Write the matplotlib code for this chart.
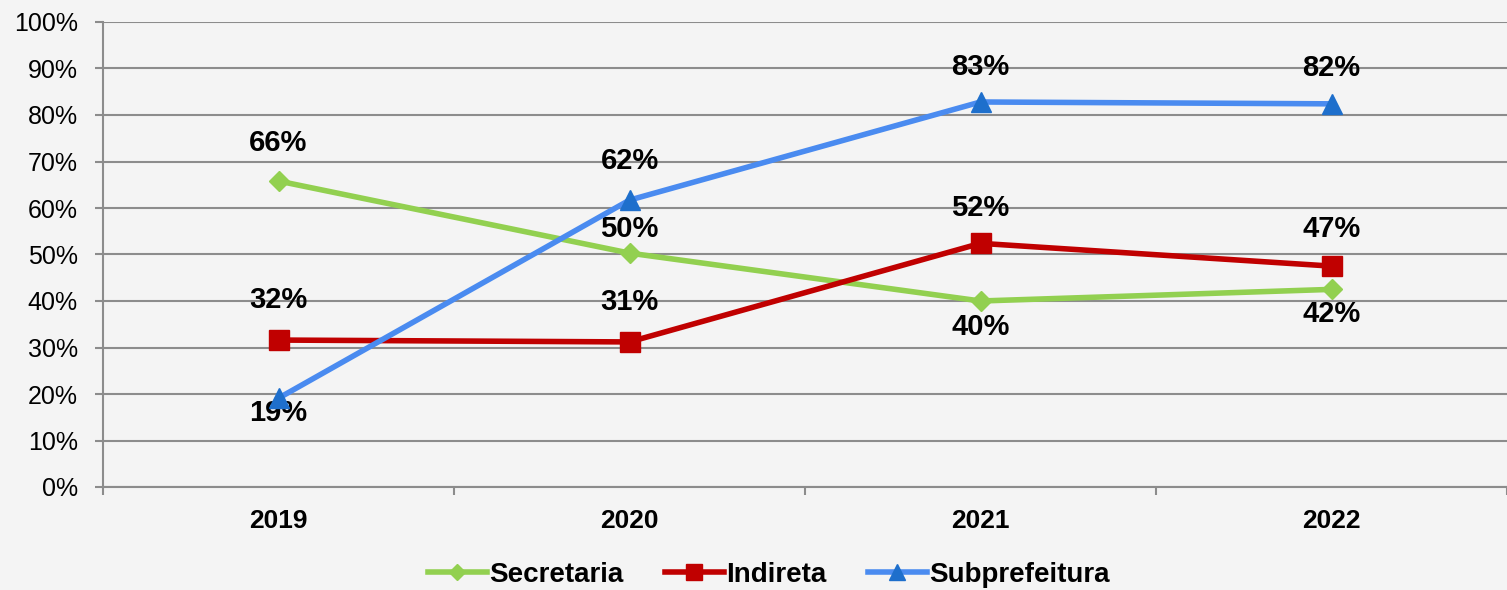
import matplotlib.pyplot as plt
from matplotlib.ticker import FixedLocator

plt.rcParams['font.family'] = ['Liberation Sans', 'DejaVu Sans']

anos = ["2019", "2020", "2021", "2022"]
secretaria = [65.8, 50.3, 40.0, 42.5]
indireta = [31.6, 31.2, 52.4, 47.5]
subprefeitura = [19.1, 61.7, 82.8, 82.4]

rotulos_sec = ["66%", "50%", "40%", "42%"]
rotulos_ind = ["32%", "31%", "52%", "47%"]
rotulos_sub = ["19%", "62%", "83%", "82%"]

# deslocamento vertical dos rótulos (em pixels)
desloc_sec = [38, 24, -26, -25]
desloc_ind = [40, 40, 35, 37]
desloc_sub = [-15, 39, 35, 36]

fig = plt.figure(figsize=(15.07, 5.9), dpi=100)
fig.patch.set_facecolor("#f4f4f4")
ax = fig.add_axes([103 / 1507, 1 - 487 / 590, 1 - 103 / 1507, (487 - 22) / 590])
ax.set_facecolor("#f4f4f4")

x = list(range(len(anos)))
series = [
    ("Secretaria", secretaria, rotulos_sec, desloc_sec, "#92D050", "#92D050", "D", 10),
    ("Indireta", indireta, rotulos_ind, desloc_ind, "#C00000", "#C00000", "s", 14),
    ("Subprefeitura", subprefeitura, rotulos_sub, desloc_sub, "#4A8BF0", "#1E6FCC", "^", 14),
]

for nome, valores, rotulos, desloc, cor, cor_marc, marc, tam in series:
    ax.plot(x, valores, color=cor, lw=4, marker=marc, markersize=tam,
            markerfacecolor=cor_marc, markeredgecolor=cor_marc, label=nome, zorder=3)
    for xi, v, r, d in zip(x, valores, rotulos, desloc):
        ax.annotate(r, (xi, v), xytext=(0, d * 0.72), textcoords="offset points",
                    ha="center", va="center", fontsize=21, fontweight="bold", zorder=2)

ax.set_xlim(-0.5, 3.5)
ax.set_ylim(0, 100)
ax.set_yticks(range(0, 101, 10))
ax.set_yticklabels([f"{v}%" for v in range(0, 101, 10)], fontsize=18)
ax.yaxis.grid(True, color="#8c8c8c", lw=1.5)
ax.set_axisbelow(True)

ax.set_xticks(x)
ax.set_xticklabels(anos, fontsize=19, fontweight="bold")
ax.xaxis.set_minor_locator(FixedLocator([-0.5, 0.5, 1.5, 2.5, 3.5]))
ax.tick_params(axis="x", which="major", length=0, pad=16)
ax.tick_params(axis="x", which="minor", length=6, color="#8c8c8c", width=1.5)
ax.tick_params(axis="y", length=6, color="#8c8c8c", width=1.5, pad=12)

for lado in ["top", "right"]:
    ax.spines[lado].set_visible(False)
for lado in ["left", "bottom"]:
    ax.spines[lado].set_color("#8c8c8c")
    ax.spines[lado].set_linewidth(1.5)

fig.legend(loc="center", bbox_to_anchor=(769 / 1507, 1 - 575 / 590), ncol=3,
           frameon=False, prop={"size": 20, "weight": "bold"}, markerscale=0.85,
           handlelength=2.1, handletextpad=0.1, columnspacing=1.5)

fig.savefig("out.png", dpi=100, facecolor=fig.get_facecolor())
